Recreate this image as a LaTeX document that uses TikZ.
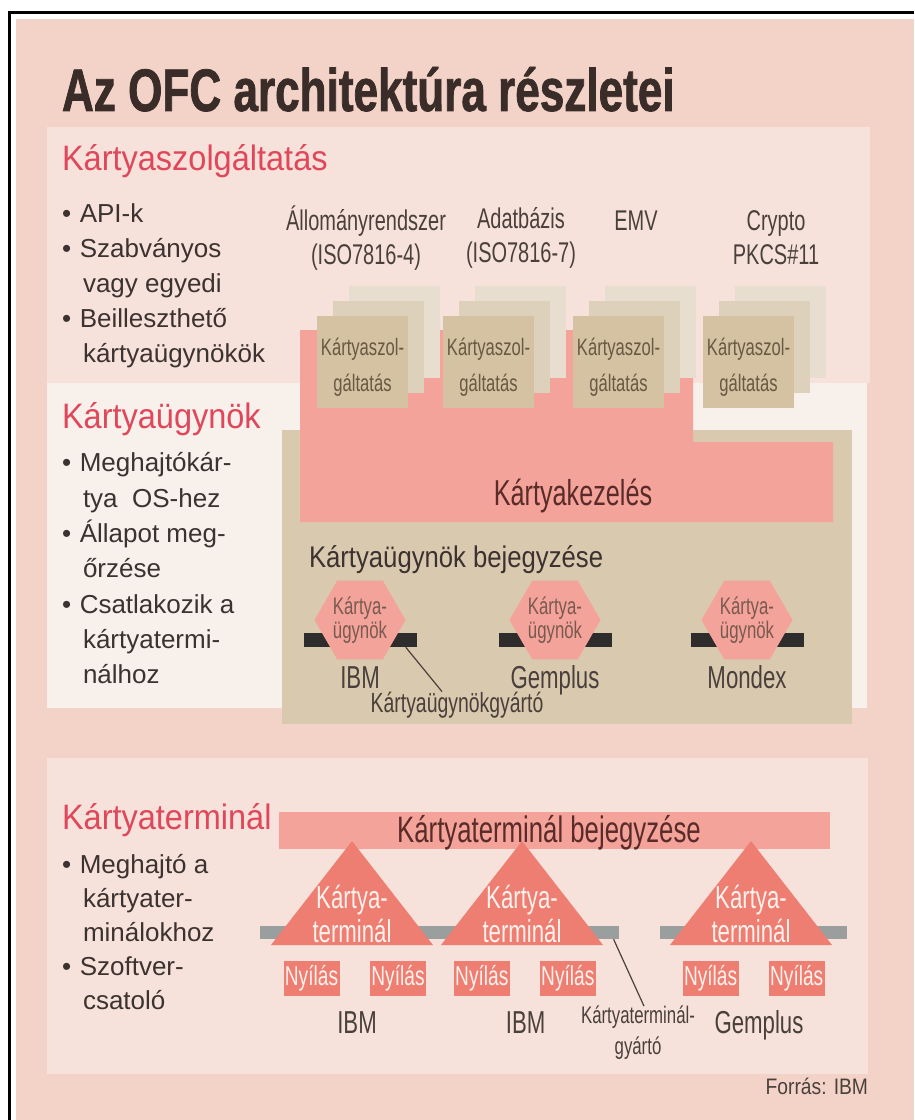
\documentclass[tikz,border=0pt]{standalone}
\usepackage{fontspec}
\setmainfont{Liberation Sans}
\newfontfamily\titlefont[FakeStretch=0.735,FakeBold=1.2]{Liberation Sans}
\newfontfamily\headfont[FakeStretch=0.92]{Liberation Sans}
\newfontfamily\condfont[FakeStretch=0.7]{Liberation Sans}
\newfontfamily\semifont[FakeStretch=0.86]{Liberation Sans}
\usetikzlibrary{shapes.geometric}

\definecolor{bgpink}{HTML}{F3D3C7}
\definecolor{panelpink}{HTML}{F6E2DA}
\definecolor{panelwhite}{HTML}{F8F0EB}
\definecolor{salmon}{HTML}{F3A39A}
\definecolor{coral}{HTML}{EE7E72}
\definecolor{tanbg}{HTML}{D9C9AE}
\definecolor{boxtan}{HTML}{D4C2A3}
\definecolor{boxmid}{HTML}{DDD1BC}
\definecolor{boxback}{HTML}{E7DECF}
\definecolor{headred}{HTML}{E0475B}
\definecolor{ink}{HTML}{3C3230}
\definecolor{titleink}{HTML}{3A2C28}
\definecolor{labelink}{HTML}{4A403B}
\definecolor{darkred}{HTML}{5A2B28}
\definecolor{boxink}{HTML}{6A5842}
\definecolor{hexink}{HTML}{7A5A50}
\definecolor{barblack}{HTML}{2F2C2C}
\definecolor{bargray}{HTML}{9A9E9D}
\definecolor{paletext}{HTML}{FFF1EC}

\tikzset{
  txt/.style={inner sep=0pt, outer sep=0pt},
  heading/.style={txt, anchor=base west, text=headred,
    font=\headfont\fontsize{26.5pt}{30pt}\selectfont},
  bulletline/.style={txt, anchor=base west, text=ink,
    font=\fontsize{19.5pt}{26pt}\selectfont},
  collabel/.style={txt, align=center, text=labelink,
    font=\condfont\fontsize{21.4pt}{25.5pt}\selectfont},
  svcback/.style={fill=boxback, minimum width=68.25pt, minimum height=69pt,
    inner sep=0pt, anchor=north west},
  svcmid/.style={svcback, fill=boxmid},
  svcfront/.style={svcback, fill=boxtan, text=boxink},
  svctext/.style={txt, align=center, text=boxink,
    font=\condfont\fontsize{17.8pt}{27pt}\selectfont},
  agentbar/.style={fill=barblack, minimum width=84.75pt, minimum height=10.5pt,
    inner sep=0pt},
  agenthex/.style={regular polygon, regular polygon sides=6, minimum size=68.25pt,
    inner sep=0pt, fill=salmon, align=center, text=hexink,
    font=\condfont\fontsize{18pt}{18pt}\selectfont},
  vendor/.style={txt, anchor=base, text=labelink,
    font=\condfont\fontsize{23.8pt}{27pt}\selectfont},
  slotbox/.style={fill=coral, minimum width=42pt, minimum height=26.25pt,
    inner sep=0pt, text=paletext, font=\condfont\fontsize{20.5pt}{22pt}\selectfont},
  termtext/.style={txt, align=center, text=paletext,
    font=\condfont\fontsize{23.8pt}{25.5pt}\selectfont},
  conn/.style={draw=labelink, line width=0.9pt},
}

\begin{document}
\begin{tikzpicture}[x=0.75pt, y=-0.75pt]
\useasboundingbox (0,0) rectangle (914,1120);

% page, frame and background
\fill[white] (0,0) rectangle (914,1120);
\fill[bgpink] (16,19) rectangle (914,1120);
\draw[line width=2.25pt] (9,1120) -- (9,13) -- (914,13);

% panels
\fill[panelpink] (47,127) rectangle (870,383);
\fill[panelwhite] (47,383) rectangle (867,708);
\fill[panelpink] (47,758) rectangle (868,1074);

% title
\node[txt, anchor=base west, text=titleink,
  font=\titlefont\bfseries\fontsize{45pt}{50pt}\selectfont] (title) at (62,111)
  {Az OFC architektúra részletei};

% ---------- card services ----------
\node[heading] (hsvc) at (62,171) {Kártyaszolgáltatás};
\node[bulletline] (b1) at (62,222) {•\hspace{6.5pt}API-k};
\node[bulletline] (b2) at (62,257) {•\hspace{6.5pt}Szabványos};
\node[bulletline] (b3) at (83,292) {vagy egyedi};
\node[bulletline] (b4) at (62,327) {•\hspace{6.5pt}Beilleszthető};
\node[bulletline] (b5) at (83,362) {kártyaügynökök};

% ---------- card agents ----------
\node[heading] (hagt) at (62,428) {Kártyaügynök};
\node[bulletline] (c1) at (62,471) {•\hspace{6.5pt}Meghajtókár-};
\node[bulletline] (c2) at (83,507) {tya\ \ OS-hez};
\node[bulletline] (c3) at (62,542) {•\hspace{6.5pt}Állapot meg-};
\node[bulletline] (c4) at (83,577) {őrzése};
\node[bulletline] (c5) at (62,613) {•\hspace{6.5pt}Csatlakozik a};
\node[bulletline] (c6) at (83,648) {kártyatermi-};
\node[bulletline] (c7) at (83,683) {nálhoz};

% card management block and registry
\fill[tanbg] (282,430) rectangle (852,724);
\fill[salmon] (300,330) -- (693,330) -- (693,442) -- (833,442) -- (833,522)
  -- (300,522) -- cycle;
\node[txt, anchor=base, text=darkred,
  font=\condfont\fontsize{27pt}{30pt}\selectfont] (mgmt) at (573,505) {Kártyakezelés};

% stacked card service boxes
\foreach \i/\xl in {1/317,2/443,3/573,4/703}{
  \node[svcback] (sb\i) at (\xl+32,286) {};
  \node[svcmid]  (sm\i) at (\xl+16,301) {};
  \node[svcfront] (sf\i) at (\xl,316) {};
  \node[svctext] (st\i) at (\xl+45.5,367) {Kártyaszol-\\gáltatás};
}

% service names
\node[collabel] (n1) at (366,238) {Állományrendszer\\(ISO7816-4)};
\node[collabel] (n2) at (521,238) {Adatbázis\\(ISO7816-7)};
\node[collabel, anchor=base] (n3) at (636,230) {EMV};
\node[collabel] (n4) at (776,238) {Crypto\\PKCS\#11};

% agent registry
\node[txt, anchor=base west, text=ink,
  font=\semifont\fontsize{22.4pt}{25pt}\selectfont] (areg) at (309,567)
  {Kártyaügynök bejegyzése};

\foreach \i/\cx/\vn in {1/360/IBM,2/555/Gemplus,3/747/Mondex}{
  \node[agentbar] (ab\i) at (\cx,640) {};
  \node[agenthex] (ah\i) at (\cx,620) {Kártya-\\ügynök};
  \node[vendor] (av\i) at (\cx,688) {\vn};
}
\node[vendor, font=\condfont\fontsize{20.8pt}{22pt}\selectfont] (kgy) at (457,712)
  {Kártyaügynökgyártó};
\draw[conn] ([xshift=-8.25pt]ab1.south east) -- ([xshift=-11.25pt]kgy.north);

% ---------- card terminals ----------
\node[heading] (hterm) at (62,829) {Kártyaterminál};
\node[bulletline] (d1) at (62,873) {•\hspace{6.5pt}Meghajtó a};
\node[bulletline] (d2) at (83,907) {kártyater-};
\node[bulletline] (d3) at (83,941) {minálokhoz};
\node[bulletline] (d4) at (62,975) {•\hspace{6.5pt}Szoftver-};
\node[bulletline] (d5) at (83,1009) {csatoló};

% terminal registry bar
\node[fill=salmon, minimum width=413.25pt, minimum height=27.75pt, inner sep=0pt]
  (treg) at (554.5,830.5) {};
\node[txt, anchor=base, text=darkred,
  font=\condfont\fontsize{27.6pt}{30pt}\selectfont] (tregtxt) at (549,842)
  {Kártyaterminál bejegyzése};

% slot rails
\node[fill=bargray, minimum width=269.75pt, minimum height=9.75pt, inner sep=0pt]
  (railA) at (439.5,932.5) {};
\node[fill=bargray, minimum width=140.6pt, minimum height=9.75pt, inner sep=0pt]
  (railB) at (753.25,932.5) {};

% terminals
\foreach \i/\cx in {1/352,2/522,3/751}{
  \fill[coral] (\cx,841) -- (\cx-81,945) -- (\cx+81,945) -- cycle;
  \node[termtext] (tt\i) at (\cx,914) {Kártya-\\terminál};
}

% slots
\foreach \i/\cx in {1/311.5,2/398,3/481.8,4/567.8,5/710.6,6/796.7}{
  \node[slotbox] (s\i) at (\cx,978) {Nyílás};
}

\node[vendor] (tv1) at (357,1033) {IBM};
\node[vendor] (tv2) at (525.6,1033) {IBM};
\node[vendor] (tv3) at (759,1033) {Gemplus};
\node[txt, align=center, text=labelink,
  font=\condfont\fontsize{18pt}{23.3pt}\selectfont] (tgy) at (638,1033)
  {Kártyaterminál-\\gyártó};
\draw[conn] ([xshift=-4.5pt]railA.south east) -- ([xshift=4.5pt]tgy.north);

% source
\node[txt, anchor=base east, text=labelink,
  font=\semifont\fontsize{16.8pt}{19pt}\selectfont] (src) at (868,1094) {Forrás: IBM};
\end{tikzpicture}
\end{document}
